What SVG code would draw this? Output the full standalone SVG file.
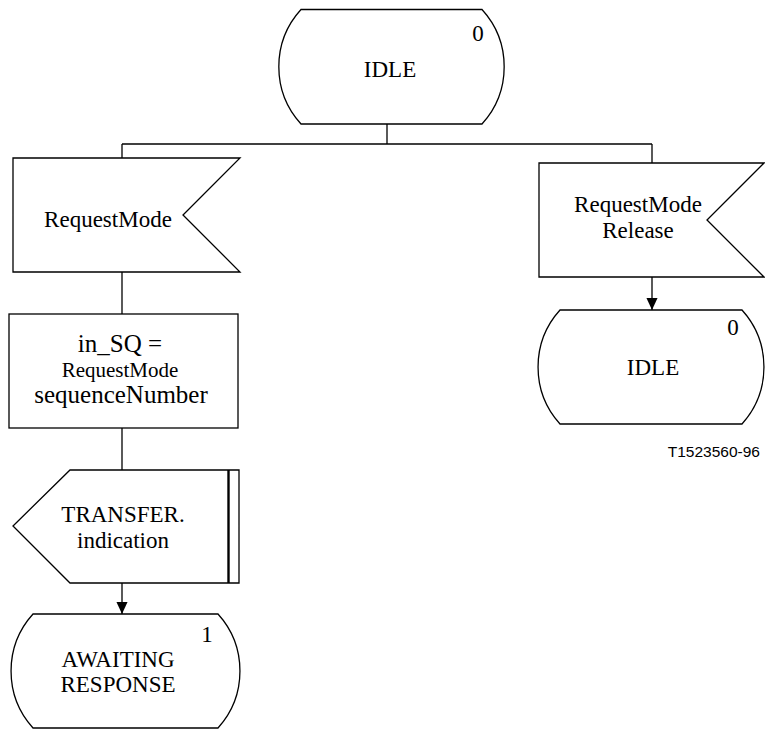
<svg xmlns="http://www.w3.org/2000/svg" width="765" height="729" viewBox="0 0 765 729">
<style>
.s{fill:#fff;stroke:#000;stroke-width:1.3}
.c{fill:none;stroke:#000;stroke-width:1.3}
text{font-family:"Liberation Serif","Times New Roman",serif;font-size:23px;fill:#000;text-anchor:middle}
.cap{font-family:"Liberation Sans",Arial,sans-serif;font-size:15.5px;text-anchor:end}
</style>
<defs>
<marker id="arr" markerWidth="12" markerHeight="13" refX="13" refY="6" orient="auto" markerUnits="userSpaceOnUse" viewBox="0 0 13 12">
<path d="M0,0 L13,6 L0,12 Z" fill="#000"/>
</marker>
</defs>
<g id="connectors">
<line class="c" x1="387" y1="124" x2="387" y2="144"/>
<line class="c" x1="122" y1="144" x2="652" y2="144"/>
<line class="c" x1="122" y1="144" x2="122" y2="158"/>
<line class="c" x1="652" y1="144" x2="652" y2="163"/>
<line class="c" x1="122" y1="272" x2="122" y2="314"/>
<line class="c" x1="122" y1="428" x2="122" y2="470"/>
<line class="c" x1="122" y1="583" x2="122" y2="614" marker-end="url(#arr)"/>
<line class="c" x1="652" y1="277" x2="652" y2="310" marker-end="url(#arr)"/>
</g>
<g id="idle_top">
<path class="s" d="M301,9.5 L482,9.5 A85,85 0 0 1 482,124 L301,124 A85,85 0 0 1 301,9.5 Z"/>
<text x="478" y="41">0</text>
<text x="390" y="77">IDLE</text>
</g>
<g id="input_requestmode">
<path class="s" d="M13,158 L240,158 L183,215 L240,272 L13,272 Z"/>
<text x="108" y="227">RequestMode</text>
</g>
<g id="input_requestmode_release">
<path class="s" d="M539,163 L764,163 L707,220 L764,277 L539,277 Z"/>
<text x="638" y="212">RequestMode</text>
<text x="638" y="238">Release</text>
</g>
<g id="idle_right">
<path class="s" d="M560,310 L742,310 A85,85 0 0 1 742,424 L560,424 A85,85 0 0 1 560,310 Z"/>
<text x="733" y="335">0</text>
<text x="653" y="375">IDLE</text>
</g>
<g id="task_in_sq">
<rect class="s" x="9" y="314" width="229" height="114"/>
<text x="120" y="352" style="font-size:25px">in_SQ =</text>
<text x="120" y="377" style="font-size:21px">RequestMode</text>
<text x="121" y="403" style="font-size:25px">sequenceNumber</text>
</g>
<g id="output_transfer">
<path class="s" d="M70,470 L239,470 L239,583 L70,583 L13,526 Z"/>
<line class="c" x1="228.5" y1="470" x2="228.5" y2="583" style="stroke-width:2.4"/>
<text x="123" y="522">TRANSFER.</text>
<text x="123" y="548">indication</text>
</g>
<g id="awaiting_response">
<path class="s" d="M33,614 L218,614 A85,85 0 0 1 218,728 L33,728 A85,85 0 0 1 33,614 Z"/>
<text x="207" y="642">1</text>
<text x="118" y="667">AWAITING</text>
<text x="118" y="692">RESPONSE</text>
</g>
<text class="cap" x="760" y="457">T1523560-96</text>
</svg>
